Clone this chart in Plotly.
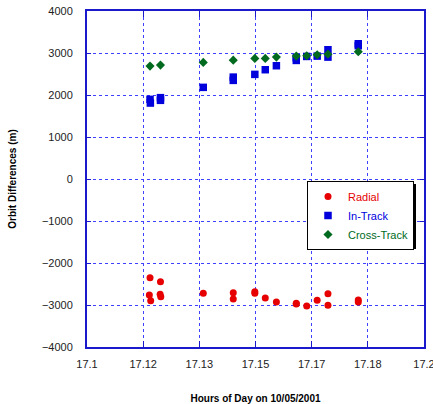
import plotly.graph_objects as go

# ---- data (hours of day, metres) ----
radial_t = [17.1187, 17.1185, 17.1189, 17.1218, 17.1217, 17.1219, 17.1345, 17.1434, 17.1434,
            17.1498, 17.1498, 17.1529, 17.1562, 17.1621, 17.1621, 17.1652, 17.1683, 17.1715,
            17.1715, 17.1805, 17.1805]
radial_v = [-2351, -2763, -2898, -2446, -2746, -2803, -2722, -2708, -2858,
            -2684, -2722, -2834, -2929, -2960, -2977, -3024, -2889, -2731,
            -3008, -2882, -2929]

intrack_t = [17.1187, 17.1188, 17.1218, 17.1218, 17.1345, 17.1434, 17.1434, 17.1498, 17.1529,
             17.1562, 17.1621, 17.1621, 17.1652, 17.1683, 17.1715, 17.1715, 17.1805, 17.1805]
intrack_v = [1896, 1808, 1937, 1873, 2182, 2426, 2348, 2491, 2602,
             2697, 2888, 2823, 2918, 2926, 3078, 2902, 3220, 3173]

cross_t = [17.1187, 17.1218, 17.1345, 17.1434, 17.1498, 17.1529, 17.1562, 17.1621,
           17.1652, 17.1683, 17.1715, 17.1805]
cross_v = [2688, 2712, 2776, 2830, 2871, 2871, 2902, 2926, 2935, 2959, 2973, 3030]

x_tick_vals = [round(17.1 + i / 60, 6) for i in range(7)]
x_tick_text = ["17.1", "17.12", "17.13", "17.15", "17.17", "17.18", "17.2"]
y_tick_vals = [-4000, -3000, -2000, -1000, 0, 1000, 2000, 3000, 4000]

RED = "#e60000"
BLUE = "#0000dd"
GREEN = "#006a1e"
AXIS = "#1a1acc"
GRID = "#4040ff"

fig = go.Figure()
fig.add_trace(go.Scatter(x=radial_t, y=radial_v, mode="markers", name=f"<span style='color:{RED}'>Radial</span>",
                         marker=dict(symbol="circle", size=7, color=RED)))
fig.add_trace(go.Scatter(x=intrack_t, y=intrack_v, mode="markers", name=f"<span style='color:{BLUE}'>In-Track</span>",
                         marker=dict(symbol="square", size=7.5, color=BLUE)))
fig.add_trace(go.Scatter(x=cross_t, y=cross_v, mode="markers", name=f"<span style='color:{GREEN}'>Cross-Track</span>",
                         marker=dict(symbol="diamond", size=7, color=GREEN)))

L, R, T, B = 87, 9, 11, 57
PW, PH = 433 - L - R, 404 - T - B

def px_x(p):
    return (p - L) / PW

def px_y(p):
    return (404 - B - p) / PH

leg_left, leg_top, leg_right, leg_bottom = 307, 181, 413, 246
fig.update_layout(
    width=433, height=404,
    margin=dict(l=L, r=R, t=T, b=B, autoexpand=False),
    paper_bgcolor="white", plot_bgcolor="white",
    font=dict(family="Liberation Sans, Arial, sans-serif", size=11, color="#222222"),
    showlegend=True,
    legend=dict(x=px_x(leg_left), y=px_y(leg_top), xanchor="left", yanchor="top",
                bgcolor="white", bordercolor="black", borderwidth=1,
                font=dict(size=11)),
    shapes=[dict(type="rect", xref="paper", yref="paper", layer="above",
                 x0=px_x(leg_left + 3), x1=px_x(leg_right + 3),
                 y0=px_y(leg_top + 3), y1=px_y(leg_bottom + 3),
                 fillcolor="black", line=dict(width=0))],
)
fig.update_xaxes(range=[17.1, 17.2], tickvals=x_tick_vals, ticktext=x_tick_text, automargin=False,
                 ticklabeloverflow="allow",
                 showline=True, linecolor=AXIS, linewidth=2, mirror="ticks",
                 ticks="inside", ticklen=6, tickcolor=AXIS, ticklabelstandoff=6,
                 showgrid=True, gridcolor=GRID, griddash="dot", gridwidth=1, zeroline=False,
                 title=dict(text="<b>Hours of Day on 10/05/2001</b>", font=dict(size=10, color="black"), standoff=26))
fig.update_yaxes(range=[-4000, 4000], tickvals=y_tick_vals, automargin=False,
                 ticklabeloverflow="allow",
                 showline=True, linecolor=AXIS, linewidth=2, mirror="ticks",
                 ticks="inside", ticklen=4, tickcolor=AXIS, ticklabelstandoff=10,
                 showgrid=True, gridcolor=GRID, griddash="dot", gridwidth=1, zeroline=False,
                 title=dict(text="<b>Orbit Differences (m)</b>", font=dict(size=10, color="black"), standoff=23))

fig.write_html("out.html")
